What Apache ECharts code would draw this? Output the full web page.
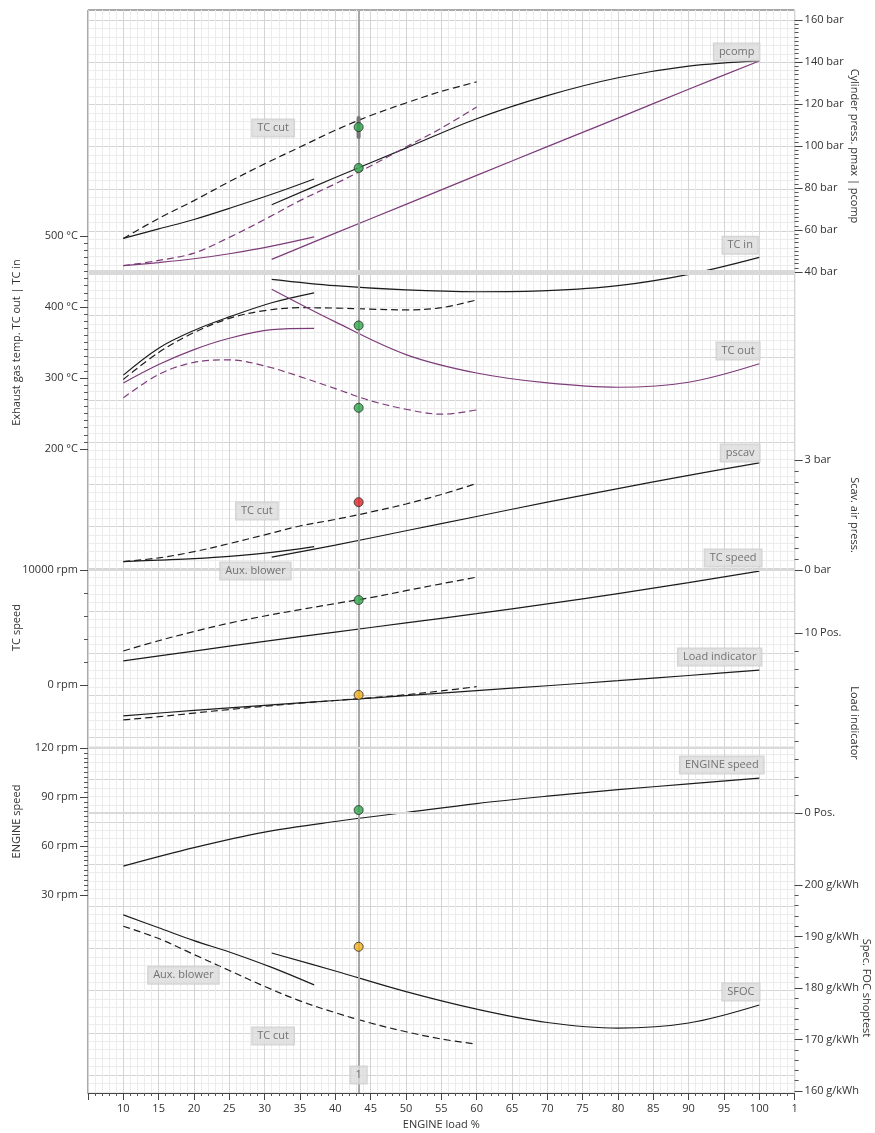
<!DOCTYPE html>
<html>
<head>
<meta charset="utf-8">
<title>Engine performance</title>
<script src="https://cdn.jsdelivr.net/npm/echarts@6/dist/echarts.min.js"></script>
<style>
  html, body { margin: 0; padding: 0; background: #fff; }
  #chart { width: 875px; height: 1133px; }
</style>
</head>
<body>
<div id="chart"></div>
<script>
// ENGINE load % steps
const loadAux = [10, 15, 20, 25, 31, 37];
const loadCut = [10, 15, 20, 25, 30, 35, 40, 45, 50, 55, 60];
const loadMain = [31, 40, 50, 60, 70, 80, 90, 100];
const loadFull = [10, 20, 30, 40, 50, 60, 70, 80, 90, 100];
const loadMeas = 43.3;
const loadTicks = [10, 15, 20, 25, 30, 35, 40, 45, 50, 55, 60, 65, 70, 75, 80, 85, 90, 95, 100];

// cylinder pressure (bar)
const pmaxAux = [56, 60.5, 65, 70.3, 77, 84.3];
const pmaxMain = [72, 85, 99, 113, 124, 132.5, 138, 140.5];
const pmaxCut = [56, 65.5, 74, 83, 91.5, 99.5, 107.5, 114.5, 120.5, 126, 130.5];
const pcompAux = [43, 44.5, 46.3, 48.7, 52.3, 56.7];
const pcompMain = [46, 58.5, 72.2, 86, 99.7, 113.3, 127, 140.5];
const pcompCut = [43, 45.5, 49, 56.5, 65, 74, 82, 90.5, 99.5, 108.5, 118.6];
const pressMeas = [109, 89.5];
const pmaxRange = [104.3, 113.3];

// exhaust gas temperature (°C)
const tcInAux = [304, 342, 367, 386, 406, 420];
const tcInMain = [439, 430, 424, 421.5, 423, 430, 446, 470];
const tcInCut = [298, 336, 364, 384, 395, 399, 398.5, 397, 396, 399, 410];
const tcOutAux = [293, 319, 340, 356, 368, 370];
const tcOutMain = [425, 379, 333, 307, 293, 287, 294, 320];
const tcOutCut = [272, 305, 322, 325.5, 317, 302, 285, 268, 256, 249, 255];
const tempMeas = [374, 258];

// scavenge air pressure (bar)
const pscavAux = [0.23, 0.27, 0.31, 0.37, 0.48, 0.64];
const pscavMain = [0.35, 0.68, 1.07, 1.46, 1.85, 2.22, 2.58, 2.92];
const pscavCut = [0.23, 0.33, 0.5, 0.72, 0.96, 1.2, 1.38, 1.58, 1.8, 2.06, 2.36];
const pscavMeas = 1.85;

// TC speed (rpm)
const tcSpeedMain = [2100, 2950, 3800, 4600, 5400, 6200, 7050, 7950, 8900, 9900];
const tcSpeedCut = [2960, 3850, 4650, 5380, 6000, 6550, 7080, 7600, 8200, 8800, 9380];
const tcSpeedMeas = 7390;

// load indicator (Pos.)
const loadIndMain = [5.4, 5.7, 5.98, 6.25, 6.52, 6.8, 7.07, 7.35, 7.64, 7.94];
const loadIndCut = [5.17, 5.35, 5.55, 5.75, 5.93, 6.1, 6.25, 6.4, 6.57, 6.78, 7.02];
const loadIndMeas = 6.56;

// engine speed (rpm)
const engSpeed = [47.7, 59, 68.5, 75, 80.5, 86, 90.5, 94.5, 98, 101.6];
const engSpeedMeas = 82;

// SFOC (g/kWh)
const sfocAux = [194.2, 191.7, 189.2, 187, 184, 180.6];
const sfocMain = [186.8, 183.3, 179.3, 175.9, 173.3, 172.2, 173.2, 176.7];
const sfocCut = [192, 189.6, 186.5, 183.4, 180.3, 177.5, 175.2, 173.2, 171.5, 170.1, 169.1];
const sfocMeas = 188;

// curve tags: [text, load, value]
const pressTags = [['pcomp', 96.8, 144.8], ['TC cut', 31.2, 108.6]];
const tempTags = [['TC in', 97.3, 487], ['TC out', 97, 338]];
const scavTags = [['pscav', 97.3, 3.19], ['TC cut', 28.9, 1.61], ['Aux. blower', 28.7, -0.03]];
const tcSpeedTags = [['TC speed', 96.3, 11050]];
const loadIndTags = [['Load indicator', 94.4, 8.67]];
const engTags = [['ENGINE speed', 94.7, 109.6]];
const sfocTags = [['SFOC', 97.4, 179.2], ['Aux. blower', 18.5, 182.5], ['TC cut', 31.2, 170.7], ['1', loadMeas, 163.1]];

const FONT = "'Open Sans', 'Noto Sans', sans-serif";
const BLACK = '#1c1c1c';
const PURPLE = '#7d3c7a';

const chart = echarts.init(document.getElementById('chart'));

// band grids: 0 frame, 1 horizontal grid lines, 2..8 one per quantity
const bands = [
  { top: 10, height: 1083 },
  { top: 20, height: 1073 },
  { top: 20, height: 252 },   // cylinder press
  { top: 236, height: 213 },  // exhaust temp
  { top: 460, height: 110 },  // scav air
  { top: 570, height: 115 },  // TC speed
  { top: 633, height: 180 },  // load indicator
  { top: 748, height: 147 },  // engine speed
  { top: 885, height: 206 }   // SFOC
];

const grids = bands.map((b, i) => ({
  left: 88, width: 706.6, top: b.top, height: b.height,
  outerBoundsMode: 'none', containLabel: false,
  show: i === 0, borderColor: '#555', borderWidth: 1, backgroundColor: '#fff'
}));

const xAxes = bands.map((b, i) => {
  if (i === 0) {
    return {
      gridIndex: 0, type: 'value', min: 5, max: 105, interval: 5, position: 'bottom',
      name: 'ENGINE load %', nameLocation: 'middle', nameGap: 26,
      nameTextStyle: { fontSize: 11, color: '#333', fontFamily: FONT },
      axisLine: { show: true, lineStyle: { color: '#444' } },
      axisTick: { show: true, length: 7, lineStyle: { color: '#444' } },
      minorTick: { show: true, splitNumber: 5, length: 3, lineStyle: { color: '#555' } },
      axisLabel: {
        margin: 10, fontSize: 11, color: '#333', fontFamily: FONT,
        formatter: v => (v === 105 ? '1' : (loadTicks.includes(v) ? String(v) : ''))
      },
      splitLine: { show: true, lineStyle: { color: '#d4d4d4', width: 1 } },
      minorSplitLine: { show: true, lineStyle: { color: '#ececec', width: 1 } }
    };
  }
  return { gridIndex: i, type: 'value', min: 5, max: 105, show: false };
});

function bandAxis(i, opt) {
  const unit = opt.unit;
  return {
    gridIndex: i, type: 'value',
    position: opt.position, min: opt.min, max: opt.max, interval: opt.interval,
    name: opt.name, nameLocation: 'middle', nameGap: opt.nameGap, nameMoveOverlap: false,
    nameRotate: opt.position === 'left' ? 90 : -90,
    nameTextStyle: { fontSize: 11, color: '#333', fontFamily: FONT },
    axisLine: { show: false },
    axisTick: { show: true, length: 8, lineStyle: { color: '#444' } },
    minorTick: { show: true, length: 4, splitNumber: opt.minor, lineStyle: { color: '#555' } },
    splitLine: { show: false },
    axisLabel: {
      margin: 10, fontSize: 11, color: '#333', fontFamily: FONT,
      formatter: v => v + ' ' + unit
    }
  };
}

const yAxes = [
  { gridIndex: 0, type: 'value', min: 0, max: 1, show: false },
  {
    gridIndex: 1, type: 'value', inverse: true, min: 0, max: 1073, interval: 42.2,
    axisLine: { show: false }, axisTick: { show: false }, axisLabel: { show: false },
    splitLine: { show: true, lineStyle: { color: '#d4d4d4', width: 1 } },
    minorTick: { show: false, splitNumber: 5 },
    minorSplitLine: { show: true, lineStyle: { color: '#ececec', width: 1 } }
  },
  bandAxis(2, { position: 'right', min: 40, max: 160, interval: 20, minor: 10, unit: 'bar',
    name: 'Cylinder press. pmax | pcomp', nameGap: 54 }),
  bandAxis(3, { position: 'left', min: 200, max: 500, interval: 100, minor: 10, unit: '°C',
    name: 'Exhaust gas temp. TC out | TC in', nameGap: 66 }),
  bandAxis(4, { position: 'right', min: 0, max: 3, interval: 3, minor: 10, unit: 'bar',
    name: 'Scav. air press.', nameGap: 54 }),
  bandAxis(5, { position: 'left', min: 0, max: 10000, interval: 10000, minor: 5, unit: 'rpm',
    name: 'TC speed', nameGap: 66 }),
  bandAxis(6, { position: 'right', min: 0, max: 10, interval: 10, minor: 10, unit: 'Pos.',
    name: 'Load indicator', nameGap: 54 }),
  bandAxis(7, { position: 'left', min: 30, max: 120, interval: 30, minor: 10, unit: 'rpm',
    name: 'ENGINE speed', nameGap: 66 }),
  bandAxis(8, { position: 'right', min: 160, max: 200, interval: 10, minor: 5, unit: 'g/kWh',
    name: 'Spec. FOC shoptest', nameGap: 66 })
];

function curve(band, xs, ys, color, dashed, extra) {
  return Object.assign({
    type: 'line', xAxisIndex: band, yAxisIndex: band,
    data: xs.map((x, i) => [x, ys[i]]),
    smooth: 0.35, showSymbol: false, symbol: 'none', silent: true, z: 3,
    lineStyle: { color: color, width: 1.2, type: dashed ? [7, 4] : 'solid' }
  }, extra || {});
}

function sepLine(value, width) {
  return {
    symbol: 'none', silent: true, label: { show: false },
    lineStyle: { color: '#d9d9d9', width: width, type: 'solid' },
    data: [{ yAxis: value }]
  };
}

function dot(band, y, color) {
  return {
    type: 'scatter', xAxisIndex: band, yAxisIndex: band, data: [[loadMeas, y]],
    symbolSize: 9, silent: true, z: 6,
    itemStyle: { color: color, borderColor: '#2a2a2a', borderWidth: 1 }
  };
}

function tags(band, list) {
  return {
    type: 'scatter', xAxisIndex: band, yAxisIndex: band, clip: false, silent: true, z: 7,
    symbol: 'rect', symbolSize: 1, itemStyle: { color: 'rgba(0,0,0,0)' },
    data: list.map(t => ({ name: t[0], value: [t[1], t[2]] })),
    label: {
      show: true, position: 'inside', formatter: p => p.name,
      backgroundColor: '#dcdcdc', borderColor: '#cbcbcb', borderWidth: 1,
      padding: [3, 5], color: '#555', fontSize: 11, fontFamily: FONT
    }
  };
}

const GREEN = '#2fa84c', RED = '#e0262a', YELLOW = '#f2b21b';

const series = [
  // measurement line at the test load
  {
    type: 'line', xAxisIndex: 0, yAxisIndex: 0, data: [[loadMeas, 0.5]],
    showSymbol: false, symbol: 'none', lineStyle: { width: 0 }, silent: true, z: 2,
    markLine: {
      symbol: 'none', silent: true, label: { show: false },
      lineStyle: { color: '#a8a8a8', width: 2, type: 'solid' },
      data: [{ xAxis: loadMeas }]
    }
  },

  // cylinder pressure
  curve(2, loadMain, pmaxMain, BLACK, false, { markLine: sepLine(40, 5) }),
  curve(2, loadAux, pmaxAux, BLACK, false),
  curve(2, loadCut, pmaxCut, BLACK, true),
  curve(2, loadMain, pcompMain, PURPLE, false),
  curve(2, loadAux, pcompAux, PURPLE, false),
  curve(2, loadCut, pcompCut, PURPLE, true),
  {
    type: 'line', xAxisIndex: 2, yAxisIndex: 2, silent: true, z: 5,
    data: [[loadMeas, pmaxRange[0]], [loadMeas, pmaxRange[1]]],
    showSymbol: false, symbol: 'none', lineStyle: { color: '#777', width: 4, cap: 'round' }
  },
  dot(2, pressMeas[0], GREEN),
  dot(2, pressMeas[1], GREEN),

  // exhaust gas temperature
  curve(3, loadMain, tcInMain, BLACK, false),
  curve(3, loadAux, tcInAux, BLACK, false),
  curve(3, loadCut, tcInCut, BLACK, true),
  curve(3, loadMain, tcOutMain, PURPLE, false),
  curve(3, loadAux, tcOutAux, PURPLE, false),
  curve(3, loadCut, tcOutCut, PURPLE, true),
  dot(3, tempMeas[0], GREEN),
  dot(3, tempMeas[1], GREEN),

  // scavenge air
  curve(4, loadMain, pscavMain, BLACK, false, { markLine: sepLine(0, 2) }),
  curve(4, loadAux, pscavAux, BLACK, false),
  curve(4, loadCut, pscavCut, BLACK, true),
  dot(4, pscavMeas, RED),

  // TC speed
  curve(5, loadFull, tcSpeedMain, BLACK, false),
  curve(5, loadCut, tcSpeedCut, BLACK, true),
  dot(5, tcSpeedMeas, GREEN),

  // load indicator
  curve(6, loadFull, loadIndMain, BLACK, false, { markLine: sepLine(0, 2) }),
  curve(6, loadCut, loadIndCut, BLACK, true),
  dot(6, loadIndMeas, YELLOW),

  // engine speed
  curve(7, loadFull, engSpeed, BLACK, false, { markLine: sepLine(120, 2) }),
  dot(7, engSpeedMeas, GREEN),

  // SFOC
  curve(8, loadMain, sfocMain, BLACK, false),
  curve(8, loadAux, sfocAux, BLACK, false),
  curve(8, loadCut, sfocCut, BLACK, true),
  dot(8, sfocMeas, YELLOW),

  tags(2, pressTags),
  tags(3, tempTags),
  tags(4, scavTags),
  tags(5, tcSpeedTags),
  tags(6, loadIndTags),
  tags(7, engTags),
  tags(8, sfocTags)
];

chart.setOption({
  animation: false,
  textStyle: { fontFamily: FONT },
  grid: grids,
  xAxis: xAxes,
  yAxis: yAxes,
  series: series
});
</script>
</body>
</html>
